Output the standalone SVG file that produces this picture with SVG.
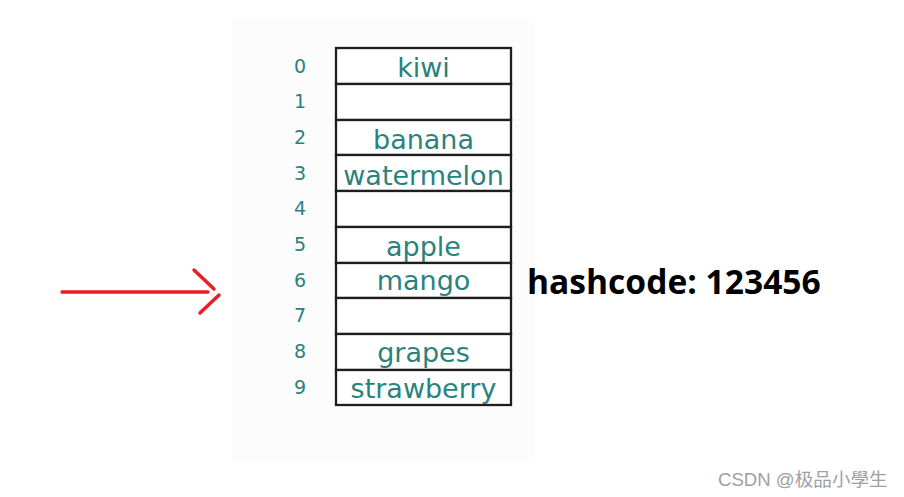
<svg xmlns="http://www.w3.org/2000/svg" width="904" height="497" viewBox="0 0 904 497">
<style>
.cell{fill:#ffffff;stroke:#1e1e1e;stroke-width:2.3}
.item{font-family:"DejaVu Sans",Verdana,sans-serif;font-size:27px;fill:#2a827d;text-anchor:middle}
.idx{font-family:"DejaVu Sans",Verdana,sans-serif;font-size:19px;fill:#2a827d;text-anchor:middle}
.arrow{stroke:#ec1c24;stroke-width:3.5;stroke-linecap:round;fill:none}
</style>
<rect width="904" height="497" fill="#ffffff"/>
<rect x="232" y="18" width="303" height="444" fill="#fcfcfc"/>
<g id="table">
<g id="row0"><rect class="cell" x="336" y="48" width="175" height="36"/><text class="idx" x="300" y="73">0</text><text class="item" x="423.5" y="77">kiwi</text></g>
<g id="row1"><rect class="cell" x="336" y="84" width="175" height="36"/><text class="idx" x="300" y="108">1</text></g>
<g id="row2"><rect class="cell" x="336" y="120" width="175" height="35"/><text class="idx" x="300" y="144">2</text><text class="item" x="423.5" y="149">banana</text></g>
<g id="row3"><rect class="cell" x="336" y="155" width="175" height="36"/><text class="idx" x="300" y="180">3</text><text class="item" x="423.5" y="185">watermelon</text></g>
<g id="row4"><rect class="cell" x="336" y="191" width="175" height="36"/><text class="idx" x="300" y="215">4</text></g>
<g id="row5"><rect class="cell" x="336" y="227" width="175" height="36"/><text class="idx" x="300" y="251">5</text><text class="item" x="423.5" y="256">apple</text></g>
<g id="row6"><rect class="cell" x="336" y="263" width="175" height="35"/><text class="idx" x="300" y="287">6</text><text class="item" x="423.5" y="290">mango</text></g>
<g id="row7"><rect class="cell" x="336" y="298" width="175" height="36"/><text class="idx" x="300" y="322">7</text></g>
<g id="row8"><rect class="cell" x="336" y="334" width="175" height="36"/><text class="idx" x="300" y="358">8</text><text class="item" x="423.5" y="362">grapes</text></g>
<g id="row9"><rect class="cell" x="336" y="370" width="175" height="35"/><text class="idx" x="300" y="394">9</text><text class="item" x="423.5" y="398">strawberry</text></g>
</g>
<g id="connectors">
<line class="arrow" x1="62" y1="292" x2="208" y2="292"/>
<line class="arrow" x1="194" y1="270" x2="214" y2="289"/>
<line class="arrow" x1="219" y1="295" x2="200" y2="313"/>
</g>
<g id="hashcode"><text x="527" y="294" font-family="'Open Sans','Noto Sans',sans-serif" font-weight="bold" font-size="33.6" fill="#000000">hashcode: 123456</text></g>
<text x="718" y="486" font-family="'Liberation Sans','Noto Sans CJK SC',sans-serif" font-size="18.6" fill="#a0a0a0">CSDN @极品小學生</text>
</svg>
